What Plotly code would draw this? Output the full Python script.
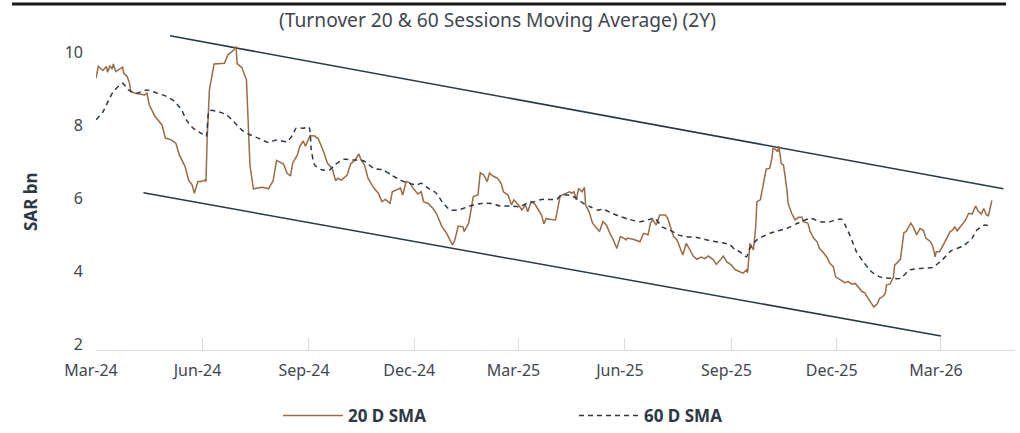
import plotly.graph_objects as go

# ---------------- data ----------------
dates_20d = [
    "2024-03-01","2024-03-03","2024-03-07","2024-03-10","2024-03-11","2024-03-13","2024-03-15","2024-03-16","2024-03-18","2024-03-21",
    "2024-03-24","2024-03-25","2024-03-28","2024-03-30","2024-03-31","2024-04-04","2024-04-12","2024-04-14","2024-04-16","2024-04-21",
    "2024-04-27","2024-04-30","2024-05-05","2024-05-09","2024-05-12","2024-05-17","2024-05-20","2024-05-23","2024-05-25","2024-05-28",
    "2024-05-31","2024-06-03","2024-06-04","2024-06-05","2024-06-07","2024-06-11","2024-06-20","2024-06-23","2024-06-28","2024-06-30",
    "2024-07-01","2024-07-05","2024-07-08","2024-07-09","2024-07-12","2024-07-15","2024-07-19","2024-07-23","2024-07-28","2024-08-01",
    "2024-08-04","2024-08-07","2024-08-10","2024-08-13","2024-08-16","2024-08-18","2024-08-22","2024-08-24","2024-08-27","2024-08-29",
    "2024-09-02","2024-09-06","2024-09-09","2024-09-13","2024-09-17","2024-09-21","2024-09-23","2024-09-24","2024-09-26","2024-09-29",
    "2024-10-04","2024-10-07","2024-10-11","2024-10-14","2024-10-16","2024-10-19","2024-10-22","2024-10-27","2024-10-31","2024-11-03",
    "2024-11-06","2024-11-10","2024-11-12","2024-11-16","2024-11-19","2024-11-21","2024-11-24","2024-11-27","2024-11-30","2024-12-04",
    "2024-12-07","2024-12-09","2024-12-13","2024-12-17","2024-12-20","2024-12-25","2024-12-29","2025-01-03","2025-01-05","2025-01-08",
    "2025-01-12","2025-01-13","2025-01-17","2025-01-21","2025-01-25","2025-01-27","2025-01-30","2025-02-02","2025-02-04","2025-02-07",
    "2025-02-11","2025-02-14","2025-02-16","2025-02-20","2025-02-23","2025-02-25","2025-03-01","2025-03-04","2025-03-07","2025-03-09",
    "2025-03-12","2025-03-15","2025-03-18","2025-03-21","2025-03-23","2025-03-25","2025-03-28","2025-04-02","2025-04-04","2025-04-06",
    "2025-04-10","2025-04-14","2025-04-16","2025-04-18","2025-04-20","2025-04-22","2025-04-25","2025-04-27","2025-04-28","2025-05-01",
    "2025-05-04","2025-05-08","2025-05-10","2025-05-13","2025-05-16","2025-05-19","2025-05-22","2025-05-25","2025-05-28","2025-05-31",
    "2025-06-02","2025-06-03","2025-06-08","2025-06-14","2025-06-17","2025-06-21","2025-06-23","2025-06-25","2025-06-28","2025-07-01",
    "2025-07-06","2025-07-08","2025-07-10","2025-07-13","2025-07-16","2025-07-19","2025-07-21","2025-07-24","2025-07-27","2025-07-30",
    "2025-08-02","2025-08-06","2025-08-09","2025-08-12","2025-08-16","2025-08-19","2025-08-21","2025-08-25","2025-08-28","2025-09-01",
    "2025-09-04","2025-09-08","2025-09-11","2025-09-14","2025-09-15","2025-09-17","2025-09-19","2025-09-20","2025-09-22","2025-09-23",
    "2025-09-26","2025-09-29","2025-10-01","2025-10-04","2025-10-06","2025-10-07","2025-10-09","2025-10-11","2025-10-12","2025-10-14",
    "2025-10-16","2025-10-19","2025-10-20","2025-10-23","2025-10-26","2025-10-29","2025-11-01","2025-11-02","2025-11-06","2025-11-08",
    "2025-11-11","2025-11-14","2025-11-16","2025-11-20","2025-11-23","2025-11-25","2025-11-28","2025-11-30","2025-12-02","2025-12-05",
    "2025-12-08","2025-12-11","2025-12-14","2025-12-17","2025-12-20","2025-12-23","2025-12-25","2025-12-28","2025-12-30","2026-01-02",
    "2026-01-05","2026-01-07","2026-01-10","2026-01-12","2026-01-13","2026-01-16","2026-01-19","2026-01-20","2026-01-23","2026-01-25",
    "2026-01-28","2026-01-30","2026-02-03","2026-02-05","2026-02-08","2026-02-11","2026-02-14","2026-02-16","2026-02-20","2026-02-22",
    "2026-02-24","2026-02-25","2026-02-28","2026-03-03","2026-03-06","2026-03-09","2026-03-11","2026-03-13","2026-03-15","2026-03-18",
    "2026-03-22","2026-03-25","2026-03-28","2026-03-31","2026-04-02","2026-04-05","2026-04-07","2026-04-09","2026-04-11","2026-04-12",
    "2026-04-14",
]
sma20 = [
    9.28, 9.60, 9.49, 9.60, 9.44, 9.62, 9.53, 9.67, 9.46, 9.51,
    9.58, 9.42, 9.32, 9.14, 8.91, 8.87, 8.82, 8.87, 8.55, 8.23,
    8.00, 7.64, 7.59, 7.50, 7.18, 6.86, 6.49, 6.36, 6.13, 6.45,
    6.45, 6.49, 6.45, 7.59, 8.96, 9.67, 9.69, 9.92, 10.05, 10.15,
    9.68, 9.57, 9.28, 9.23, 6.90, 6.25, 6.27, 6.29, 6.25, 6.47,
    7.03, 6.99, 6.93, 6.68, 6.60, 6.96, 7.18, 7.41, 7.56, 7.42,
    7.71, 7.70, 7.62, 7.32, 6.95, 6.81, 6.58, 6.47, 6.54, 6.49,
    6.63, 6.93, 7.04, 7.21, 7.04, 6.90, 6.54, 6.27, 6.13, 5.90,
    5.96, 5.85, 6.17, 6.22, 6.27, 6.08, 6.45, 6.42, 6.27, 6.11,
    6.17, 5.90, 5.85, 5.72, 5.58, 5.21, 5.03, 4.71, 4.85, 5.23,
    5.21, 5.08, 5.31, 6.04, 6.08, 6.69, 6.63, 6.45, 6.68, 6.60,
    6.54, 6.40, 6.17, 6.08, 5.81, 5.95, 5.81, 5.67, 5.81, 5.62,
    5.90, 5.84, 5.69, 5.53, 5.29, 5.44, 5.42, 5.40, 5.72, 6.05,
    6.11, 6.17, 6.13, 6.17, 5.95, 6.26, 6.17, 6.29, 5.81, 5.62,
    5.31, 5.17, 5.08, 5.35, 5.26, 5.03, 4.85, 4.62, 4.94, 4.90,
    4.85, 4.90, 4.87, 4.80, 5.03, 4.99, 5.31, 5.40, 5.26, 5.53,
    5.53, 5.44, 5.26, 4.94, 4.85, 4.58, 4.44, 4.76, 4.58, 4.41,
    4.32, 4.38, 4.34, 4.41, 4.32, 4.18, 4.25, 4.41, 4.25, 4.16,
    4.04, 3.98, 3.94, 4.03, 3.95, 4.76, 4.62, 4.58, 5.21, 5.90,
    5.95, 6.40, 6.79, 6.81, 7.09, 7.36, 7.33, 7.27, 7.42, 6.95,
    6.90, 6.22, 5.85, 5.58, 5.40, 5.47, 5.47, 5.35, 5.31, 5.08,
    4.90, 4.80, 4.62, 4.48, 4.35, 4.21, 4.12, 3.84, 3.80, 3.75,
    3.68, 3.71, 3.64, 3.66, 3.53, 3.43, 3.41, 3.25, 3.15, 3.01,
    3.10, 3.25, 3.30, 3.39, 3.62, 3.64, 3.84, 4.16, 4.25, 4.32,
    5.05, 5.08, 5.31, 5.21, 4.99, 5.17, 5.10, 4.90, 4.80, 4.67,
    4.39, 4.53, 4.53, 4.71, 4.90, 5.08, 5.12, 5.21, 5.10, 5.23,
    5.38, 5.58, 5.56, 5.78, 5.65, 5.56, 5.71, 5.55, 5.51, 5.65,
    5.93,
]

dates_60d = [
    "2024-03-01","2024-03-07","2024-03-12","2024-03-16","2024-03-24","2024-03-29","2024-04-05","2024-04-14","2024-04-22","2024-05-01",
    "2024-05-08","2024-05-14","2024-05-18","2024-05-24","2024-05-31","2024-06-04","2024-06-07","2024-06-15","2024-06-22","2024-06-28",
    "2024-07-05","2024-07-12","2024-07-19","2024-07-28","2024-08-04","2024-08-13","2024-08-18","2024-08-21","2024-08-27","2024-09-01",
    "2024-09-03","2024-09-06","2024-09-12","2024-09-19","2024-09-23","2024-10-01","2024-10-09","2024-10-18","2024-10-27","2024-11-04",
    "2024-11-11","2024-11-19","2024-11-24","2024-12-03","2024-12-07","2024-12-13","2024-12-20","2024-12-25","2025-01-01","2025-01-10",
    "2025-01-18","2025-01-28","2025-02-06","2025-02-13","2025-02-22","2025-03-02","2025-03-08","2025-03-15","2025-03-21","2025-03-28",
    "2025-04-03","2025-04-07","2025-04-15","2025-04-22","2025-04-26","2025-05-02","2025-05-08","2025-05-13","2025-05-21","2025-05-28",
    "2025-06-04","2025-06-14","2025-06-21","2025-06-27","2025-07-03","2025-07-10","2025-07-17","2025-07-24","2025-08-02","2025-08-11",
    "2025-08-19","2025-08-26","2025-08-31","2025-09-04","2025-09-08","2025-09-14","2025-09-17","2025-09-23","2025-10-04","2025-10-19",
    "2025-10-27","2025-11-08","2025-11-17","2025-11-25","2025-12-05","2025-12-09","2025-12-14","2025-12-18","2025-12-24","2025-12-31",
    "2026-01-07","2026-01-16","2026-01-25","2026-02-02","2026-02-11","2026-02-22","2026-03-02","2026-03-10","2026-03-20","2026-03-28",
    "2026-04-01","2026-04-08","2026-04-12",
]
sma60 = [
    8.14, 8.36, 8.68, 8.91, 9.14, 8.96, 8.87, 8.96, 8.88, 8.78,
    8.64, 8.41, 8.14, 7.91, 7.77, 7.68, 8.39, 8.36, 8.27, 8.09,
    7.86, 7.73, 7.64, 7.52, 7.59, 7.54, 7.73, 7.91, 7.91, 7.94,
    7.32, 6.90, 6.77, 6.77, 6.90, 7.06, 7.04, 7.02, 6.81, 6.77,
    6.63, 6.49, 6.42, 6.36, 6.40, 6.27, 6.13, 5.90, 5.67, 5.69,
    5.78, 5.85, 5.85, 5.78, 5.78, 5.76, 5.85, 5.90, 5.96, 5.96,
    5.96, 6.08, 6.07, 5.95, 5.85, 5.76, 5.67, 5.69, 5.58, 5.49,
    5.42, 5.35, 5.40, 5.44, 5.21, 5.12, 4.99, 4.94, 4.92, 4.85,
    4.80, 4.76, 4.71, 4.59, 4.53, 4.39, 4.62, 4.85, 5.03, 5.17,
    5.29, 5.44, 5.35, 5.35, 5.42, 5.21, 4.85, 4.53, 4.25, 3.98,
    3.84, 3.80, 3.80, 4.03, 4.07, 4.10, 4.30, 4.56, 4.68, 4.90,
    5.12, 5.26, 5.23,
]

# channel (trend) lines
upper_trend_dates = ["2024-05-04", "2026-04-24"]
upper_trend_values = [10.44, 6.25]
lower_trend_dates = ["2024-04-11", "2026-03-01"]
lower_trend_values = [6.14, 2.22]

tick_dates = ["2024-03-01", "2024-06-01", "2024-09-01", "2024-12-01", "2025-03-01",
              "2025-06-01", "2025-09-01", "2025-12-01", "2026-03-01"]
tick_labels = ["Mar-24", "Jun-24", "Sep-24", "Dec-24", "Mar-25",
               "Jun-25", "Sep-25", "Dec-25", "Mar-26"]
y_ticks = [2, 4, 6, 8, 10]

title_text = "(Turnover 20 & 60 Sessions Moving Average) (2Y)"

# ---------------- styling ----------------
FONT = "Noto Sans"
BROWN = "#9a6b45"
DARK = "#2c3845"
TEXT = "#3f4650"
AXIS = "#d9d9d9"

W, H = 1020, 433
PL, PR, PT, PB = 96, 5, 30, 83
PW, PH = W - PL - PR, H - PT - PB

fig = go.Figure()

fig.add_trace(go.Scatter(
    x=upper_trend_dates, y=upper_trend_values, mode="lines",
    line=dict(color=DARK, width=1.5), showlegend=False, hoverinfo="skip"))
fig.add_trace(go.Scatter(
    x=lower_trend_dates, y=lower_trend_values, mode="lines",
    line=dict(color=DARK, width=1.5), showlegend=False, hoverinfo="skip"))

fig.add_trace(go.Scatter(
    x=dates_20d, y=sma20, mode="lines", name="20 D SMA",
    line=dict(color=BROWN, width=1.5)))
fig.add_trace(go.Scatter(
    x=dates_60d, y=sma60, mode="lines", name="60 D SMA",
    line=dict(color=DARK, width=1.5, dash="5px,4px", shape="spline", smoothing=0.6)))

fig.update_layout(
    width=W, height=H, autosize=False,
    margin=dict(l=PL, r=PR, t=PT, b=PB, pad=0, autoexpand=False),
    paper_bgcolor="white", plot_bgcolor="white",
    font=dict(family=FONT, size=16, color=TEXT),
    title=dict(text=title_text, x=497.5 / W, xref="container", xanchor="center",
               y=1 - 20 / H, yref="container", yanchor="middle",
               font=dict(family=FONT, size=19.2, color=TEXT)),
    xaxis=dict(type="date", range=["2024-03-01", "2026-05-04"],
               tickvals=tick_dates, ticktext=tick_labels,
               ticks="inside", ticklen=12, tickcolor=AXIS, tickwidth=1,
               showline=True, linecolor=AXIS, linewidth=1, automargin=False,
               showgrid=False, zeroline=False, ticklabelstandoff=6,
               ticklabelshift=-5,
               tickfont=dict(family=FONT, size=16, color=TEXT)),
    yaxis=dict(range=[1.836, 10.6], tickvals=y_ticks, automargin=False,
               showline=False, showgrid=False, zeroline=False, ticks="",
               ticklabelstandoff=12,
               tickfont=dict(family=FONT, size=16, color=TEXT)),
    legend=dict(orientation="h", xref="container", yref="container",
                x=278 / W, xanchor="left",
                y=1 - 416 / H, yanchor="middle",
                entrywidth=221, entrywidthmode="pixels",
                itemwidth=60, traceorder="normal",
                font=dict(family=FONT, size=17, color=DARK, weight="bold")),
    showlegend=True,
)

fig.add_annotation(text="<b>SAR bn</b>", textangle=-90, xref="paper", yref="paper",
                   x=(30 - PL) / PW, y=(PT + PH - 202) / PH, showarrow=False,
                   xanchor="center", yanchor="middle",
                   font=dict(family=FONT, size=17, color=DARK))

fig.add_shape(type="line", xref="paper", yref="paper",
              x0=(12 - PL) / PW, x1=(1006 - PL) / PW,
              y0=(PT + PH - 4) / PH, y1=(PT + PH - 4) / PH,
              line=dict(color="#1a1a1a", width=3))

# remove the browser's default 8px page margin so the figure fills the window
fig.write_html("out.html",
               config={"displayModeBar": False},
               post_script="document.body.style.margin='0';document.body.style.overflow='hidden';")
